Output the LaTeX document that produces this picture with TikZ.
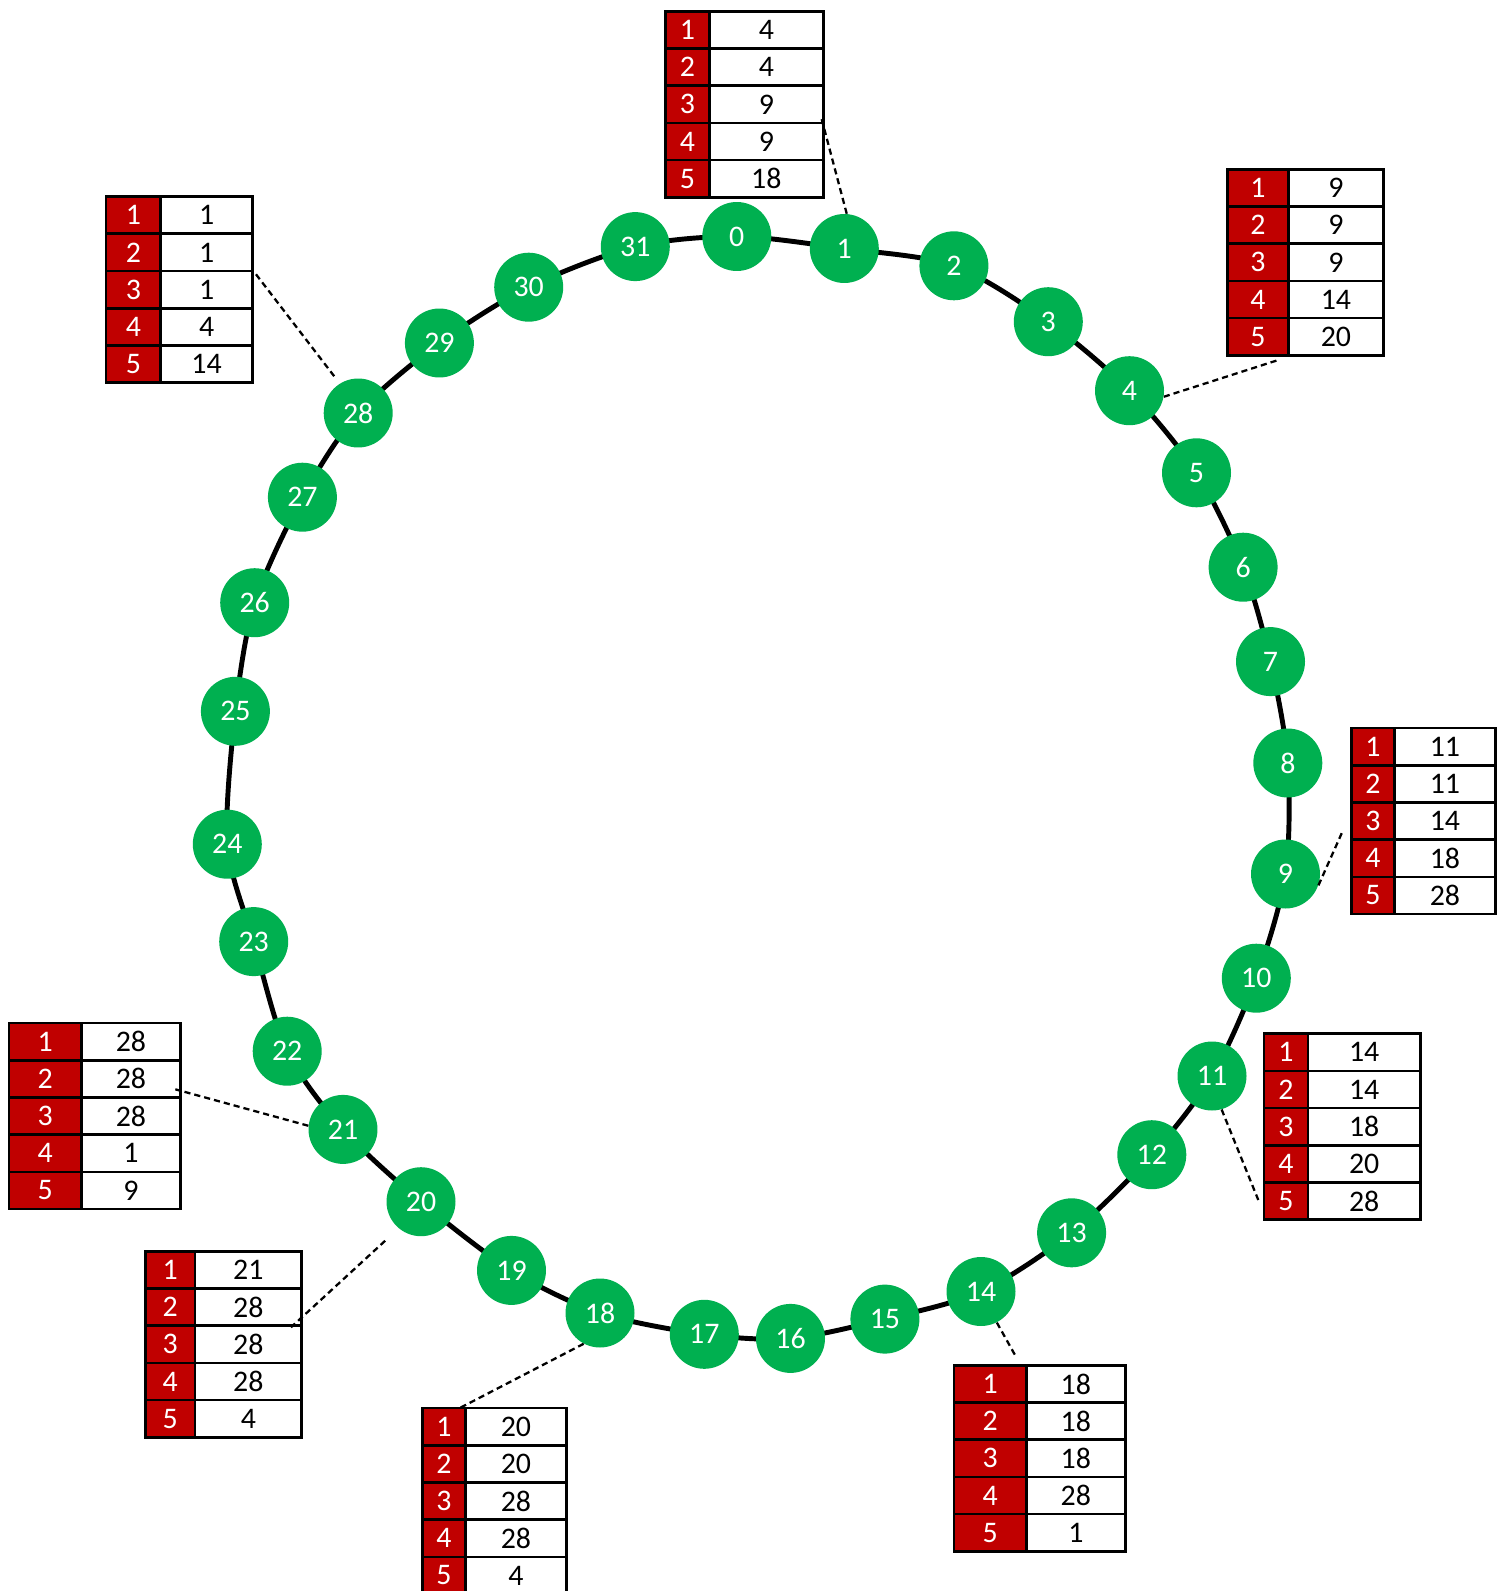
\documentclass[tikz,border=0pt]{standalone}
\usepackage{fontspec}
\setmainfont{Carlito}
\usepackage{tikz}
\usetikzlibrary{backgrounds}
\definecolor{peergreen}{HTML}{00B050}
\definecolor{idxred}{HTML}{C00000}
% finger table: name, left x, top y, split x, right x, entries
\newcommand{\fingertab}[6]{%
  \foreach \val [count=\row] in {#6} {
    \node[idxcell, minimum width={(#4-#2)*0.02cm}] (#1-\row) at (#2,{#3+(\row-1)*37.2}) {\row};
    \node[valcell, minimum width={(#5-#4)*0.02cm}] (#1-v\row) at (#4,{#3+(\row-1)*37.2}) {\val};
  }
}

\begin{document}
\begin{tikzpicture}[x=0.02cm, y=-0.02cm, every node/.style={font=\fontsize{17}{20}\selectfont},
      peer/.style={circle, fill=peergreen, text=white, minimum size=1.38cm, inner sep=0pt},
      idxcell/.style={draw, line width=1.5pt, fill=idxred, text=white, anchor=north west, minimum height=0.744cm, inner sep=0pt},
      valcell/.style={draw, line width=1.5pt, fill=white, anchor=north west, minimum height=0.744cm, inner sep=0pt},
      ring/.style={line width=2.8pt},
      finger/.style={line width=1.3pt, dash pattern=on 3.5pt off 2.3pt}]
    \useasboundingbox (0,0) rectangle (1508,1591);
    % peers on the ring
    \foreach \n/\x/\y in {0/736.8/236.5, 1/844.3/248.5, 2/953.9/265.8, 3/1048.3/321.7,
        4/1129.5/390.7, 5/1196.5/472.8, 6/1243.1/567.2, 7/1270.5/661.6,
        8/1287.8/763, 9/1285.5/874, 10/1256.3/978.2, 11/1212/1076,
        12/1151.8/1154.7, 13/1071.6/1232.8, 14/981/1291.5, 15/884.9/1319.1,
        16/790.5/1338.4, 17/704.3/1334.3, 18/600/1313, 19/511.5/1270.4,
        20/421/1201.7, 21/343/1129.4, 22/287.2/1051.2, 23/253.7/941.6,
        24/227.3/844.2, 25/235.4/711.3, 26/254.7/602.7, 27/302.4/497.2,
        28/358.2/413, 29/439.4/343, 30/528.7/287.2, 31/635.3/246.6}
      \node[peer] (n\n) at (\x,\y) {\n};
    \begin{scope}[on background layer]
      \draw[ring] plot[smooth cycle] coordinates {(n0) (n1) (n2) (n3) (n4) (n5) (n6) (n7)
        (n8) (n9) (n10) (n11) (n12) (n13) (n14) (n15) (n16) (n17) (n18) (n19) (n20)
        (n21) (n22) (n23) (n24) (n25) (n26) (n27) (n28) (n29) (n30) (n31)};
    \end{scope}
    % finger tables
    \fingertab{t1}{664}{10}{708}{822}{4,4,9,9,18}
    \fingertab{t4}{1226}{168}{1287.3}{1382}{9,9,9,14,20}
    \fingertab{t9}{1350}{726.7}{1393.3}{1494}{11,11,14,18,28}
    \fingertab{t11}{1262.7}{1032.3}{1306.7}{1419}{14,14,18,20,28}
    \fingertab{t14}{952.7}{1364}{1025}{1124}{18,18,18,28,1}
    \fingertab{t18}{421}{1406.7}{464.3}{565}{20,20,28,28,4}
    \fingertab{t20}{144}{1250}{193.7}{300.3}{21,28,28,28,4}
    \fingertab{t21}{7.7}{1021.7}{80}{179.3}{28,28,28,1,9}
    \fingertab{t28}{104.7}{195.3}{159.3}{251.3}{1,1,1,4,14}
    \coordinate (t1-pin) at (821,116.7);
    \coordinate (t4-pin) at (1278.3,360);
    \coordinate (t9-pin) at (1342.7,831);
    \coordinate (t11-pin) at (1258.3,1200);
    \coordinate (t14-pin) at (1015,1355);
    \coordinate (t18-pin) at (457.3,1409.3);
    \coordinate (t20-pin) at (291,1327.3);
    \coordinate (t21-pin) at (175.3,1089.3);
    \coordinate (t28-pin) at (254,271.7);
    \draw[finger] (n1.86) -- (t1-pin);
    \draw[finger] (n4.-10) -- (t4-pin);
    \draw[finger] (n9.-19) -- (t9-pin);
    \draw[finger] (n11.-74) -- (t11-pin);
    \draw[finger] (n14.-63) -- (t14-pin);
    \draw[finger] (n18.-118) -- (t18-pin);
    \draw[finger, shorten <=8\pgflinewidth] (n20.-130) -- (t20-pin);
    \draw[finger] (n21.174) -- (t21-pin);
    \draw[finger, shorten <=4\pgflinewidth] (n28.122) -- (t28-pin);
  \end{tikzpicture}
\end{document}
